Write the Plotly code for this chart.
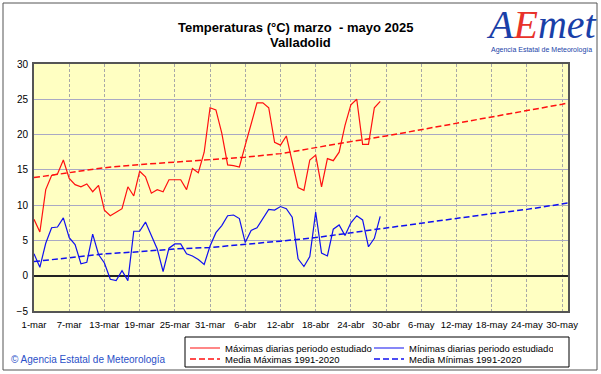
import pandas as pd
import plotly.graph_objects as go

# ---- data ----
start_date = "2025-03-01"
tmax = [8.0, 6.2, 12.2, 14.2, 14.4, 16.4, 13.8, 12.9, 12.6, 13.0,
        11.9, 12.8, 9.3, 8.5, 9.0, 9.5, 12.6, 11.3, 14.8, 14.0,
        11.7, 12.2, 11.9, 13.6, 13.6, 13.6, 12.2, 15.2, 14.6, 17.5,
        23.8, 23.5, 20.2, 15.7, 15.6, 15.4, 18.5, 21.5, 24.5, 24.5,
        23.8, 18.9, 18.5, 19.8, 16.1, 12.5, 12.1, 16.4, 17.1, 12.6,
        16.6, 16.3, 17.5, 21.3, 24.2, 25.0, 18.6, 18.6, 23.8, 24.7]
tmin = [3.1, 1.2, 4.6, 6.8, 6.9, 8.2, 5.4, 4.4, 1.7, 1.9,
        5.9, 3.0, 1.8, -0.5, -0.7, 0.7, -0.7, 6.3, 6.3, 7.6,
        5.7, 3.8, 0.6, 3.9, 4.5, 4.5, 3.1, 2.8, 2.3, 1.6,
        4.2, 6.1, 7.1, 8.5, 8.6, 8.1, 4.7, 6.4, 6.8, 8.1,
        9.4, 9.3, 9.8, 9.5, 8.3, 2.4, 1.3, 2.7, 9.0, 3.2,
        2.8, 6.6, 7.2, 5.7, 7.5, 8.5, 7.9, 4.1, 5.3, 8.4]

normal_dates = ["2025-03-01", "2025-03-07", "2025-03-13", "2025-03-19", "2025-03-25",
                "2025-03-31", "2025-04-06", "2025-04-12", "2025-04-18", "2025-04-24",
                "2025-04-30", "2025-05-06", "2025-05-12", "2025-05-18", "2025-05-24",
                "2025-05-30", "2025-05-31"]
normal_max = [13.9, 14.6, 15.3, 15.75, 16.1, 16.5, 16.8, 17.3, 18.2, 19.0,
              19.8, 20.7, 21.5, 22.5, 23.3, 24.3, 24.5]
normal_min = [2.0, 2.6, 3.1, 3.4, 3.8, 4.0, 4.4, 4.9, 5.4, 6.1,
              6.8, 7.4, 8.1, 8.8, 9.4, 10.2, 10.3]

tick_dates = normal_dates[:-1]
tick_labels = ["1-mar", "7-mar", "13-mar", "19-mar", "25-mar", "31-mar", "6-abr",
               "12-abr", "18-abr", "24-abr", "30-abr", "6-may", "12-may",
               "18-may", "24-may", "30-may"]
y_ticks = [-5, 0, 5, 10, 15, 20, 25, 30]

dates = pd.date_range(start_date, periods=len(tmax))

FONT = "Liberation Sans, Arial, sans-serif"
RED = "#FF1010"
BLUE = "#1010F0"

fig = go.Figure()
fig.add_trace(go.Scatter(x=dates, y=tmax, mode="lines", name="Máximas diarias periodo estudiado",
                         line=dict(color=RED, width=1.2), legend="legend"))
fig.add_trace(go.Scatter(x=dates, y=tmin, mode="lines", name="Mínimas diarias periodo estudiado",
                         line=dict(color=BLUE, width=1.2), legend="legend"))
fig.add_trace(go.Scatter(x=pd.to_datetime(normal_dates), y=normal_max, mode="lines",
                         name="Media Máximas 1991-2020",
                         line=dict(color=RED, width=1.5, dash="6px,3px"), legend="legend2"))
fig.add_trace(go.Scatter(x=pd.to_datetime(normal_dates), y=normal_min, mode="lines",
                         name="Media Mínimas 1991-2020",
                         line=dict(color=BLUE, width=1.5, dash="6px,3px"), legend="legend2"))

W, H = 601, 374
ML, MR, MT, MB = 34, 33, 64, 63
PW, PH = W - ML - MR, H - MT - MB


def px_x(px):
    return (px - ML) / PW


def px_y(py):
    return (H - MB - py) / PH


legend_common = dict(orientation="h", xanchor="left", yanchor="middle",
                     borderwidth=0, bgcolor="rgba(0,0,0,0)",
                     font=dict(family=FONT, size=9.5, color="black"),
                     entrywidth=139, entrywidthmode="pixels", itemwidth=30,
                     tracegroupgap=0, itemclick=False, itemdoubleclick=False)

fig.update_layout(
    width=W, height=H, autosize=False,
    margin=dict(l=ML, r=MR, t=MT, b=MB, pad=0, autoexpand=False),
    paper_bgcolor="white",
    plot_bgcolor="#FFFFC2",
    font=dict(family=FONT, size=10, color="black"),
    showlegend=True,
    legend=dict(x=px_x(185), y=px_y(348), **legend_common),
    legend2=dict(x=px_x(185), y=px_y(359), **legend_common),
    xaxis=dict(range=["2025-03-01", "2025-05-31"], tickvals=pd.to_datetime(tick_dates),
               ticktext=tick_labels, tickangle=0, automargin=False,
               showgrid=True, gridcolor="#A8A8A8", griddash="3px,2px",
               gridwidth=1, ticks="outside", ticklen=4, tickcolor="rgba(0,0,0,0)",
               tickfont=dict(size=9.5), showline=True, linecolor="#555555", linewidth=2,
               mirror=True, zeroline=False),
    yaxis=dict(range=[-5, 30], tickvals=y_ticks, automargin=False,
               showgrid=True, gridcolor="#A9A9C4",
               gridwidth=1, ticks="outside", ticklen=2, tickcolor="rgba(0,0,0,0)",
               tickfont=dict(size=10), showline=True, linecolor="#555555", linewidth=2,
               mirror=True, zeroline=True, zerolinecolor="#222222", zerolinewidth=1.5),
)

# outer frame
fig.add_shape(type="rect", xref="paper", yref="paper",
              x0=px_x(3), x1=px_x(597), y0=px_y(370), y1=px_y(3),
              line=dict(color="#555555", width=1), layer="below")
# legend box
fig.add_shape(type="rect", xref="paper", yref="paper",
              x0=px_x(185), x1=px_x(569), y0=px_y(367), y1=px_y(337),
              line=dict(color="black", width=1), fillcolor="white", layer="below")

# title
fig.add_annotation(text="<b>Temperaturas (°C) marzo  - mayo 2025</b>", xref="paper", yref="paper",
                   x=px_x(295), y=px_y(28), showarrow=False, font=dict(size=13, family=FONT),
                   xanchor="center", yanchor="middle")
fig.add_annotation(text="<b>Valladolid</b>", xref="paper", yref="paper",
                   x=px_x(300), y=px_y(43), showarrow=False, font=dict(size=13, family=FONT),
                   xanchor="center", yanchor="middle")

# logo (text approximation)
fig.add_annotation(text="<i><span style='color:#1A3FA8'>A</span><span style='color:#E8322A'>E</span>"
                        "<span style='color:#1A3FA8'>met</span></i>",
                   xref="paper", yref="paper", x=px_x(541), y=px_y(24), showarrow=False,
                   font=dict(size=40, family="Liberation Serif"), xanchor="center", yanchor="middle")
fig.add_annotation(text="Agencia Estatal de Meteorología", xref="paper", yref="paper",
                   x=px_x(541), y=px_y(50), showarrow=False,
                   font=dict(size=7, family=FONT, color="#1A3FA8"),
                   xanchor="center", yanchor="middle")

# copyright
fig.add_annotation(text="© Agencia Estatal de Meteorología", xref="paper", yref="paper",
                   x=px_x(9), y=px_y(359), showarrow=False,
                   font=dict(size=10, family=FONT, color="#2A50C8"),
                   xanchor="left", yanchor="middle")

fig.write_html("out.html", config={"displayModeBar": False},
               post_script="document.body.style.margin='0px';")
